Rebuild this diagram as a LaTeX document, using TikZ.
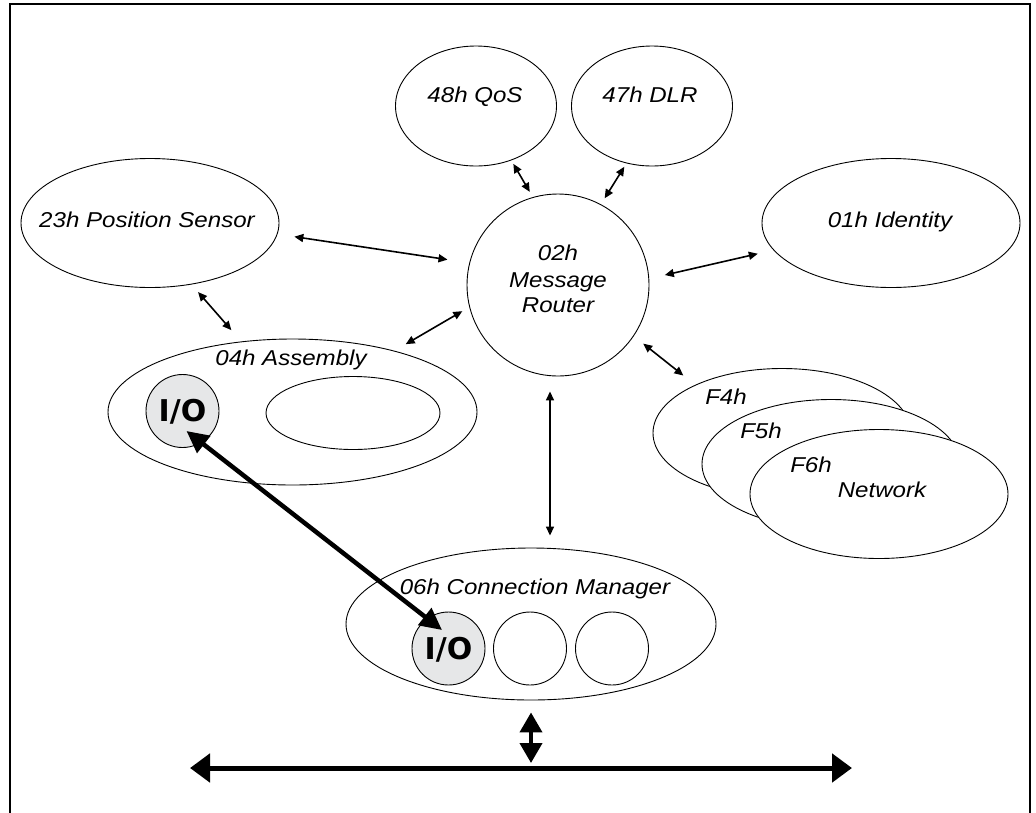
\documentclass[tikz,border=0pt]{standalone}
\usepackage{fontspec}
\setmainfont{Liberation Sans}[FakeStretch=1.12]
\newfontfamily\iofont{DejaVu Sans}
\usetikzlibrary{shapes.geometric,arrows.meta,calc}
\definecolor{iogray}{HTML}{E6E7E8}

\begin{document}
\begin{tikzpicture}[x=1pt,y=-1pt,
  obj/.style={draw,ellipse,line width=0.9pt,inner sep=0pt,fill=white},
  slot/.style={draw,circle,line width=0.9pt,inner sep=0pt,minimum size=73pt,fill=white},
  iobox/.style={slot,fill=iogray,font=\iofont\bfseries\fontsize{30}{31}\selectfont,
                text height=21.5pt,text depth=0pt},
  lbl/.style={font=\fontsize{21.5}{25}\selectfont\itshape,inner sep=0pt,
              text height=15.4pt,text depth=0pt},
  link/.style={line width=1.6pt,<->,>={Triangle[length=9pt,width=8pt]}},
  iolink/.style={line width=4.5pt,<->,>={Triangle[length=22pt,width=21pt]}},
  busline/.style={line width=5pt,<->,>={Triangle[length=20pt,width=28pt]}},
  busdrop/.style={line width=4pt,<->,>={Triangle[length=20pt,width=22pt]}}]

\useasboundingbox (0,0) rectangle (1036,812);
\fill[white] (0,0) rectangle (1036,812);
% outer frame, open at the bottom edge
\draw[line width=2.2pt] (10,815) -- (10,4) -- (1030,4) -- (1030,815);

% objects
\node[obj,minimum width=161pt,minimum height=120pt] (qos) at (476,106) {};
\node[obj,minimum width=161pt,minimum height=120pt] (dlr) at (652,106) {};
\node[obj,minimum width=258pt,minimum height=129pt] (pos) at (150,223) {};
\node[obj,minimum width=258pt,minimum height=129pt] (ident) at (891,223) {};
\node[obj,minimum width=182pt,minimum height=182pt] (router) at (558,285) {};
\node[obj,minimum width=369pt,minimum height=146pt] (asm) at (292.5,412) {};
\node[obj,minimum width=174pt,minimum height=73pt] (asmslot) at (353,413) {};
\node[iobox] (io1) at (182.5,411) {I/O};
\node[obj,minimum width=258pt,minimum height=129pt] (f4) at (782,433) {};
\node[obj,minimum width=258pt,minimum height=129pt] (f5) at (831,464) {};
\node[obj,minimum width=258pt,minimum height=129pt] (f6) at (879,494) {};
\node[obj,minimum width=370pt,minimum height=152pt] (cm) at (531,624) {};
\node[iobox] (io2) at (448.5,648.5) {I/O};
\node[slot] (cmslotb) at (530,648.5) {};
\node[slot] (cmslotc) at (612,648.5) {};

% labels
\node[lbl] (qoslbl) at (475,95) {48h QoS};
\node[lbl] (dlrlbl) at (650,95) {47h DLR};
\node[lbl] (poslbl) at (147,220) {23h Position Sensor};
\node[lbl] (identlbl) at (890,220) {01h Identity};
\node[lbl] (rta) at (558,253) {02h};
\node[lbl] (rtb) at (558,280) {Message};
\node[lbl] (rtc) at (558,305) {Router};
\node[lbl] (asmlbl) at (291,358) {04h Assembly};
\node[lbl] (f4lbl) at (726,397) {F4h};
\node[lbl] (f5lbl) at (761,431) {F5h};
\node[lbl] (f6lbl) at (811,465) {F6h};
\node[lbl] (netlbl) at (882,490) {Network};
\node[lbl] (cmlbl) at (535,587) {06h Connection Manager};

% explicit message links
\draw[link,shorten <=4pt,shorten >=6pt] (qos.-57) -- (router.106);
\draw[link,shorten <=4pt,shorten >=7pt] (dlr.-114) -- (router.62);
\draw[link,shorten <=17pt,shorten >=22pt] (pos.-5) -- (router.166);
\draw[link,shorten <=16pt,shorten >=16pt] (ident.193) -- (router.4);
\draw[link,shorten <=13pt,shorten >=8pt] (asm.31) -- (router.194);
\draw[link,shorten <=10pt,shorten >=15pt] (pos.-56) -- (asm.126);
\draw[link,shorten <=12pt,shorten >=15pt] (router.-34) -- (f4.151);
\coordinate (rtfoot) at ($(router.south)+(-8,0)$);
\draw[link,shorten <=15pt,shorten >=12pt] (rtfoot) -- (rtfoot |- cm.north);

% implicit I/O connection
\draw[iolink] ([shift={(4,20)}]io1.center) -- ([shift={(-6.5,-18.5)}]io2.center);

% network
\coordinate (busL) at (190,768);
\coordinate (busR) at (852,768);
\draw[busline] (busL) -- (busR);
\draw[busdrop,shorten <=12pt,shorten >=5pt] (cm.south) -- (cm.south |- busL);
\end{tikzpicture}
\end{document}
